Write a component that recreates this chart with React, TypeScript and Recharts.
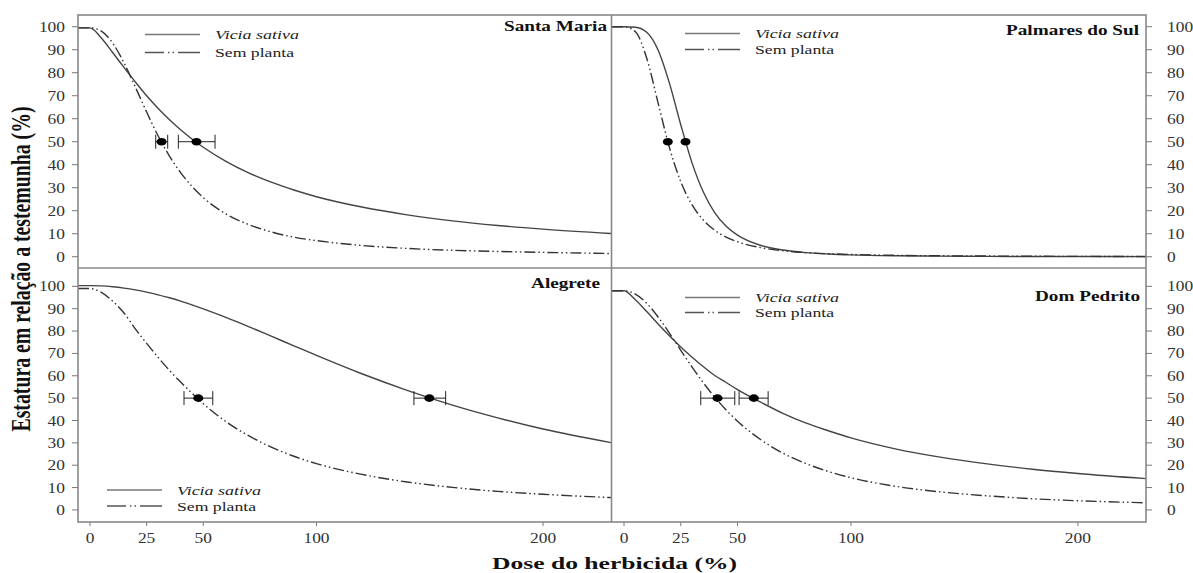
import React from "react";
import { ComposedChart, Line, Scatter, ErrorBar, XAxis, YAxis } from "recharts";

const FONT = "'Liberation Serif', 'Times New Roman', serif";

// dose do herbicida (%)
const doses = [-5.3, 0, 5, 10, 15, 20, 25, 30, 35, 40, 45, 50, 60, 70, 80, 90, 100, 120, 140, 160, 180, 200, 230];

const xTicks = [0, 25, 50, 100, 200];
const yTicks = [0, 10, 20, 30, 40, 50, 60, 70, 80, 90, 100];

// Santa Maria
const santaMariaVicia = [99.5, 99.5, 95.1, 88.8, 82.3, 76.0, 70.0, 64.6, 59.7, 55.2, 51.2, 47.6, 41.5, 36.5, 32.4, 29.0, 26.1, 21.6, 18.2, 15.6, 13.6, 12.0, 10.1];
const santaMariaSem = [99.5, 99.5, 98.1, 92.9, 84.3, 73.8, 62.9, 52.7, 43.9, 36.6, 30.6, 25.7, 18.6, 14.0, 10.8, 8.5, 7.0, 4.9, 3.6, 2.8, 2.3, 1.9, 1.4];
const santaMariaEd50 = [
  { dose: 47, est: 50, ci: [8, 8.2] },
  { dose: 31.6, est: 50, ci: [2.6, 2.7] },
];

// Palmares do Sul
const palmaresVicia = [100, 100, 99.8, 97.6, 89.9, 75.5, 57.4, 40.7, 28.0, 19.1, 13.3, 9.4, 5.0, 2.9, 1.8, 1.2, 0.8, 0.4, 0.25, 0.15, 0.1, 0.1, 0.05];
const palmaresSem = [100, 100, 97.8, 86.3, 66.9, 47.5, 32.6, 22.5, 15.9, 11.5, 8.5, 6.5, 4.0, 2.6, 1.8, 1.3, 1.0, 0.6, 0.4, 0.3, 0.2, 0.15, 0.1];
const palmaresEd50 = [
  { dose: 27.1, est: 50, ci: [0, 0] },
  { dose: 19.3, est: 50, ci: [0, 0] },
];

// Alegrete
const alegreteVicia = [100.3, 100.3, 100.2, 99.8, 99.2, 98.4, 97.4, 96.2, 94.9, 93.4, 91.7, 89.9, 86.1, 82.0, 77.7, 73.4, 69.1, 60.9, 53.5, 46.9, 41.2, 36.2, 30.1];
const alegreteSem = [99, 99, 97.3, 93.4, 88.1, 81.0, 74.5, 68.3, 62.5, 57.2, 52.2, 47.5, 39.5, 33.2, 28.1, 24.0, 20.7, 15.9, 12.5, 10.1, 8.3, 7.0, 5.5];
const alegreteEd50 = [
  { dose: 149.8, est: 50, ci: [6.8, 7.2] },
  { dose: 47.8, est: 50, ci: [6.3, 6.4] },
];

// Dom Pedrito
const domPedritoVicia = [98, 98, 94.0, 88.7, 83.2, 77.9, 72.9, 68.3, 64.0, 60.1, 57.0, 53.8, 48.3, 43.2, 38.9, 35.4, 32.2, 27.2, 23.5, 20.6, 18.2, 16.3, 14.0];
const domPedritoSem = [98, 98, 96.5, 92.4, 86.3, 79.1, 71.4, 63.9, 56.8, 50.4, 44.7, 39.7, 31.6, 25.4, 20.8, 17.2, 14.4, 10.5, 8.0, 6.3, 5.0, 4.1, 3.2];
const domPedritoEd50 = [
  { dose: 57.2, est: 50, ci: [6.5, 6.3] },
  { dose: 41.2, est: 50, ci: [7.4, 7.6] },
];

const toRows = (vicia: number[], sem: number[]) =>
  doses.map((d, i) => ({ dose: d, vicia: vicia[i], sem: sem[i] }));

const DASH = "11 3 1.5 3 1.5 3";

const YTick = (p: any) => {
  const s = String(p.payload.value);
  return (
    <text x={p.x} y={p.y} dy="0.36em" textAnchor={p.textAnchor} fontSize={14} fontFamily={FONT} fill="#333"
      textLength={s.length * 8.7} lengthAdjust="spacingAndGlyphs">{s}</text>
  );
};

const XTick = (p: any) => {
  const s = String(p.payload.value);
  return (
    <text x={p.x} y={p.y} dy="0.71em" textAnchor="middle" fontSize={14} fontFamily={FONT} fill="#333"
      textLength={s.length * 8.7} lengthAdjust="spacingAndGlyphs">{s}</text>
  );
};

const Ed50Dot = (p: any) => <ellipse cx={p.cx} cy={p.cy} rx={5} ry={3.8} fill="#000" />;

type PanelProps = {
  left: number;
  top: number;
  width: number;
  height: number;
  side: "left" | "right";
  bottom: boolean;
  yDomain: [number, number];
  vicia: number[];
  sem: number[];
  ed50: { dose: number; est: number; ci: number[] }[];
  bars: boolean;
};

function Panel({ left, top, width, height, side, bottom, yDomain, vicia, sem, ed50, bars }: PanelProps) {
  return (
    <div style={{ position: "absolute", left, top }}>
      <ComposedChart
        width={width}
        height={height}
        data={toRows(vicia, sem)}
        margin={{ top: bottom ? 0 : 15, right: 0, bottom: bottom ? 21 : 0, left: 0 }}
      >
        <XAxis
          type="number"
          dataKey="dose"
          domain={[-5.3, 230]}
          allowDataOverflow
          ticks={xTicks}
          interval={0}
          hide={!bottom}
          height={30}
          axisLine={false}
          tickLine={{ stroke: "#777" }}
          tickSize={4}
          tickMargin={7}
          tick={(p: any) => <XTick {...p} />}
        />
        <YAxis
          type="number"
          orientation={side}
          width={side === "left" ? 78 : 47}
          domain={yDomain}
          allowDataOverflow
          ticks={yTicks}
          interval={0}
          axisLine={false}
          tickLine={{ stroke: "#777" }}
          tickSize={6}
          tickMargin={side === "left" ? 7 : 15}
          tick={(p: any) => <YTick {...p} />}
        />
        <Line type="monotone" dataKey="vicia" stroke="#444" strokeWidth={1.4} dot={false} isAnimationActive={false} />
        <Line type="monotone" dataKey="sem" stroke="#333" strokeWidth={1.4} strokeDasharray={DASH} dot={false} isAnimationActive={false} />
        <Scatter data={ed50} dataKey="est" shape={(p: any) => <Ed50Dot {...p} />} isAnimationActive={false}>
          {bars && <ErrorBar dataKey="ci" direction="x" width={7} stroke="#222" strokeWidth={1} />}
        </Scatter>
      </ComposedChart>
    </div>
  );
}

const legendText = { fontFamily: FONT, fontSize: 13.5, fill: "#222" };

function Legend({ x, y1, y2 }: { x: number; y1: number; y2: number }) {
  return (
    <g>
      <line x1={x} y1={y1} x2={x + 55} y2={y1} stroke="#777" strokeWidth={1.3} />
      <line x1={x} y1={y2} x2={x + 55} y2={y2} stroke="#555" strokeWidth={1.3} strokeDasharray="19 4 1.5 3 1.5 4 30" />
      <text x={x + 70} y={y1 + 4.5} {...legendText} fontStyle="italic" textLength={84} lengthAdjust="spacingAndGlyphs">Vicia sativa</text>
      <text x={x + 70} y={y2 + 4.5} {...legendText} textLength={79} lengthAdjust="spacingAndGlyphs">Sem planta</text>
    </g>
  );
}

const titleStyle = { fontFamily: FONT, fontSize: 14, fontWeight: "bold" as const, fill: "#111" };

export default function App() {
  return (
    <div style={{ position: "absolute", left: 0, top: 0, width: 1193, height: 573, background: "#fff" }}>
      <Panel left={0} top={0} width={611} height={268} side="left" bottom={false} yDomain={[-4.9, 105.1]}
        vicia={santaMariaVicia} sem={santaMariaSem} ed50={santaMariaEd50} bars />
      <Panel left={612} top={0} width={581} height={268} side="right" bottom={false} yDomain={[-4.9, 105.1]}
        vicia={palmaresVicia} sem={palmaresSem} ed50={palmaresEd50} bars={false} />
      <Panel left={0} top={268} width={611} height={305} side="left" bottom yDomain={[-5.4, 108.2]}
        vicia={alegreteVicia} sem={alegreteSem} ed50={alegreteEd50} bars />
      <Panel left={612} top={268} width={581} height={305} side="right" bottom yDomain={[-5.4, 108.2]}
        vicia={domPedritoVicia} sem={domPedritoSem} ed50={domPedritoEd50} bars />

      <svg width={1193} height={573} style={{ position: "absolute", left: 0, top: 0, pointerEvents: "none" }}>
        <rect x={78} y={15} width={1068} height={507} fill="none" stroke="#888" strokeWidth={1.6} />
        <line x1={611.5} y1={15} x2={611.5} y2={522} stroke="#888" strokeWidth={1.6} />
        <line x1={78} y1={268} x2={1146} y2={268} stroke="#888" strokeWidth={1.6} />

        <text x={607} y={31} textAnchor="end" {...titleStyle} textLength={103} lengthAdjust="spacingAndGlyphs">Santa Maria</text>
        <text x={1139} y={35} textAnchor="end" {...titleStyle} textLength={133} lengthAdjust="spacingAndGlyphs">Palmares do Sul</text>
        <text x={600} y={288} textAnchor="end" {...titleStyle} textLength={69} lengthAdjust="spacingAndGlyphs">Alegrete</text>
        <text x={1140} y={301} textAnchor="end" {...titleStyle} textLength={105} lengthAdjust="spacingAndGlyphs">Dom Pedrito</text>

        <Legend x={145} y1={34.5} y2={52.5} />
        <Legend x={685} y1={33.5} y2={49.5} />
        <Legend x={107} y1={490} y2={506} />
        <Legend x={685} y1={297.5} y2={312.5} />

        <text transform="translate(29.5,269) scale(1.37,1) rotate(-90)" textAnchor="middle" fontFamily={FONT}
          fontSize={19.5} fontWeight="bold" fill="#111" textLength={325} lengthAdjust="spacingAndGlyphs">
          Estatura em relação a testemunha (%)
        </text>
        <text x={614.5} y={569} textAnchor="middle" fontFamily={FONT} fontSize={17} fontWeight="bold" fill="#111"
          textLength={245} lengthAdjust="spacingAndGlyphs">
          Dose do herbicida (%)
        </text>
      </svg>
    </div>
  );
}
